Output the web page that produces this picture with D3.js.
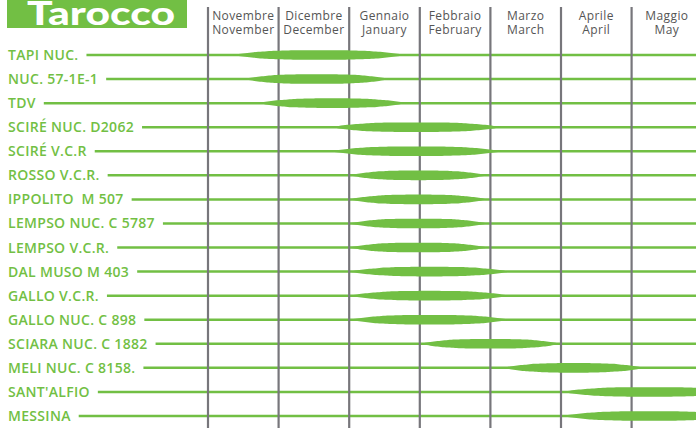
<!DOCTYPE html>
<html>
<head>
<meta charset="utf-8">
<script src="https://cdn.jsdelivr.net/npm/d3@7"></script>
<style>
  body { margin: 0; background: #fff; }
  svg { display: block; }
</style>
</head>
<body>
<svg id="chart" width="696" height="428"></svg>
<script>
(function() {
    // Varieties, top to bottom
    var varieties = ["TAPI NUC.", "NUC. 57-1E-1", "TDV", "SCIRÉ NUC. D2062", "SCIRÉ V.C.R",
        "ROSSO V.C.R.", "IPPOLITO  M 507", "LEMPSO NUC. C 5787", "LEMPSO V.C.R.",
        "DAL MUSO M 403", "GALLO V.C.R.", "GALLO NUC. C 898", "SCIARA NUC. C 1882",
        "MELI NUC. C 8158.", "SANT'ALFIO", "MESSINA"];

    // Harvest window, in months counted from 1 November
    var startMonth = [0.34, 0.50, 0.71, 1.73, 1.73, 2.0, 2.0, 2.0, 2.0, 2.0, 2.0, 2.0, 3.0, 4.18, 5.0, 5.0];
    var endMonth   = [2.81, 2.58, 2.81, 4.17, 4.17, 3.96, 3.96, 3.96, 3.96, 4.27, 4.27, 4.27, 5.0, 6.18, 7.5, 7.5];

    // Month headers (Italian / English)
    var monthsIt = ["Novembre", "Dicembre", "Gennaio", "Febbraio", "Marzo", "Aprile", "Maggio"];
    var monthsEn = ["November", "December", "January", "February", "March", "April", "May"];

    var green = "#72bf44",
        grid = "#77767b",
        width = 696,
        height = 428;

    var svg = d3.select("#chart");

    // Scales
    var x = d3.scaleLinear().domain([0, 7]).range([208, 208 + 7 * 70.6]);
    var y = d3.scalePoint().domain(varieties).range([55, 416]);

    // Title box
    svg.append("rect")
        .attr("x", 7).attr("y", 0)
        .attr("width", 180).attr("height", 28)
        .attr("fill", green);
    svg.append("text")
        .attr("x", 101).attr("y", 24.5)
        .attr("text-anchor", "middle")
        .attr("font-family", "Lato, sans-serif")
        .attr("font-weight", 900)
        .attr("font-size", "32px")
        .attr("fill", "#fff")
        .attr("textLength", 148)
        .attr("lengthAdjust", "spacingAndGlyphs")
        .text("Tarocco");

    // Month header labels, two lines in one text
    var head = svg.append("g")
        .attr("font-family", "'Open Sans', sans-serif")
        .attr("font-size", "12px")
        .attr("letter-spacing", "0.4px")
        .attr("fill", "#555")
        .attr("text-anchor", "middle");
    monthsIt.forEach(function(m, i) {
        var cx = x(i + 0.5);
        var t = head.append("text").attr("x", cx).attr("y", 19.5);
        t.append("tspan").attr("x", cx).text(m);
        t.append("tspan").attr("x", cx).attr("dy", 14).text(monthsEn[i]);
    });

    // Variety labels and their guide lines
    var rows = svg.append("g");
    varieties.forEach(function(v, i) {
        var t = rows.append("text")
            .attr("x", 8)
            .attr("y", y(v) + 5)
            .attr("font-family", "'Open Sans', sans-serif")
            .attr("font-weight", 600)
            .attr("font-size", "14px")
            .attr("letter-spacing", "0.3px")
            .attr("fill", green)
            .attr("xml:space", "preserve")
            .text(v);
        var tw = t.node().getComputedTextLength();
        rows.append("line")
            .attr("x1", 8 + tw + 8).attr("x2", width)
            .attr("y1", y(v)).attr("y2", y(v))
            .attr("stroke", green)
            .attr("stroke-width", 2.5);
    });

    // Vertical month boundaries
    d3.range(0, 7).forEach(function(m) {
        svg.append("line")
            .attr("x1", x(m)).attr("x2", x(m))
            .attr("y1", 7).attr("y2", height)
            .attr("stroke", grid)
            .attr("stroke-width", 2.2);
    });

    // Lens shaped harvest windows
    var half = 4.8;
    var lens = d3.area()
        .x(function(d) { return d.x; })
        .y0(function(d) { return d.y - d.h; })
        .y1(function(d) { return d.y + d.h; })
        .curve(d3.curveBasis);

    varieties.forEach(function(v, i) {
        var x0 = x(startMonth[i]), x1 = x(endMonth[i]);
        var pts = d3.range(0, 41).map(function(k) {
            var u = k / 40, s = Math.abs(2 * u - 1);
            return { x: x0 + (x1 - x0) * u, y: y(v), h: half * (1 - Math.pow(s, 3)) };
        });
        svg.append("path")
            .datum(pts)
            .attr("d", lens)
            .attr("fill", green);
    });
})();
</script>
</body>
</html>
